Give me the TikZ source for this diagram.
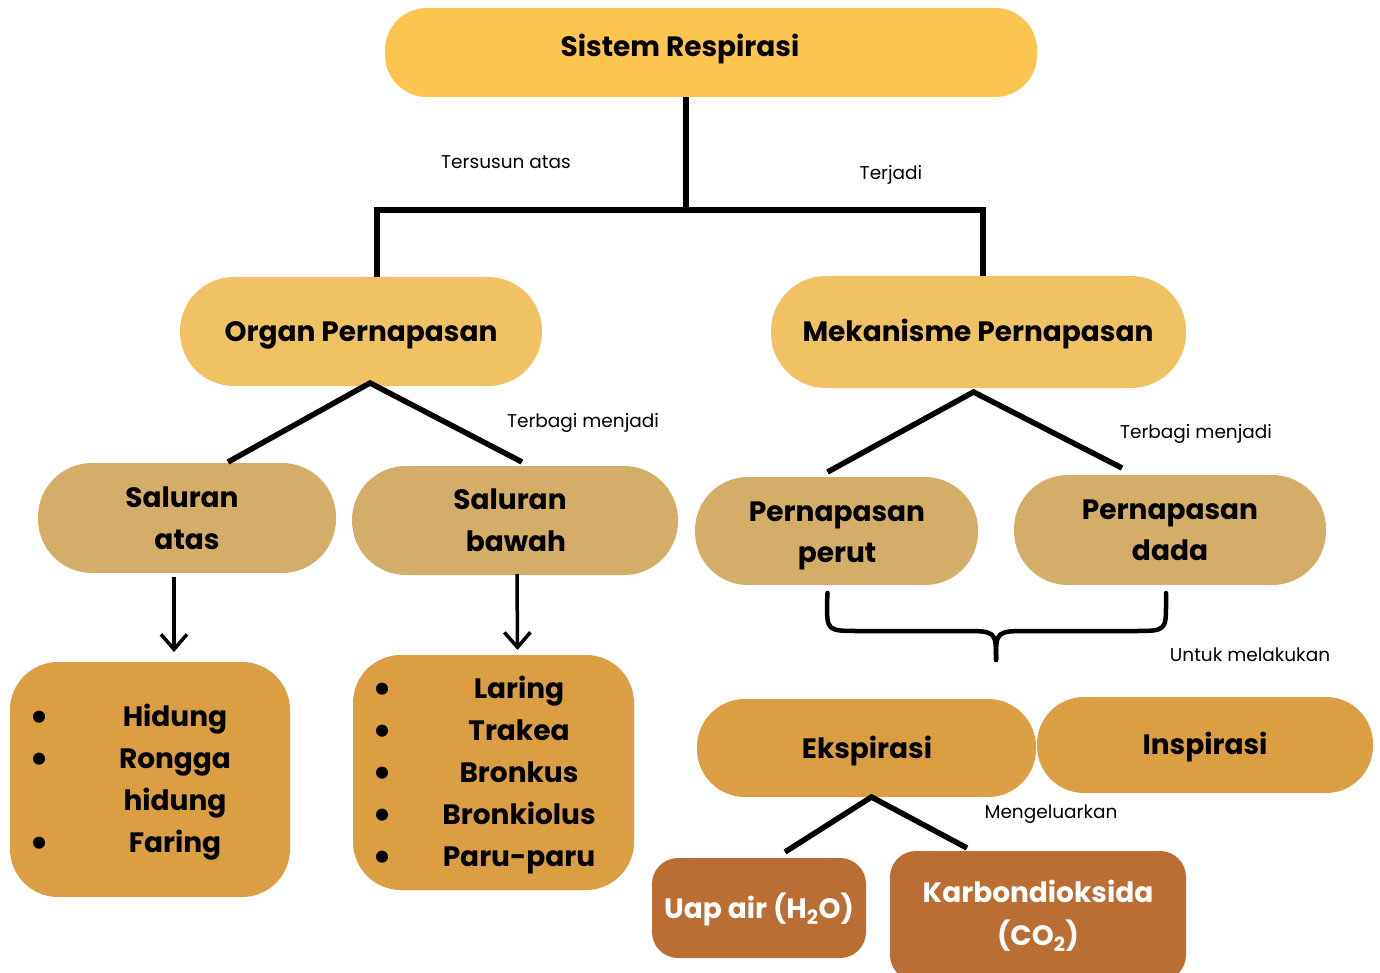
\documentclass[tikz,border=0pt]{standalone}
\usepackage{fontspec}
\setmainfont{Poppins}
\usetikzlibrary{arrows.meta,calc}
\definecolor{cTop}{HTML}{FCC550}
\definecolor{cLvlA}{HTML}{F1C263}
\definecolor{cLvlB}{HTML}{D4AD68}
\definecolor{cLvlC}{HTML}{DB9E42}
\definecolor{cRust}{HTML}{BA6E34}
\begin{document}
\begin{tikzpicture}[x=1pt,y=-1pt,
  box/.style={draw=none,inner sep=0pt,outer sep=0pt},
  bt/.style={font=\bfseries\fontsize{28}{30}\selectfont,text height=20pt,text depth=0pt,inner sep=0pt},
  bul/.style={font=\bfseries\fontsize{40}{40}\selectfont,inner sep=0pt,yshift=-5pt},
  wt/.style={bt,text=white},
  lbl/.style={font=\fontsize{18.5}{20}\selectfont,inner sep=0pt,text height=13pt,text depth=0pt},
  tree/.style={line width=5.5pt,black},
  arr/.style={line width=3.5pt,-{Straight Barb[length=15pt,width=26pt,line width=3.5pt]}},
  brace/.style={line width=4.5pt,line cap=round,line join=round}]
\useasboundingbox (0,0) rectangle (1380,973);
\fill[white] (0,0) rectangle (1380,973);

% boxes
\node[box,fill=cTop,minimum width=652pt,minimum height=89pt,rounded corners=42pt] (sis) at (711,52.5) {};
\node[box,fill=cLvlA,minimum width=362pt,minimum height=109pt,rounded corners=54pt] (org) at (361,331.5) {};
\node[box,fill=cLvlA,minimum width=415pt,minimum height=112pt,rounded corners=55pt] (mek) at (978.5,332) {};
\node[box,fill=cLvlB,minimum width=298pt,minimum height=110pt,rounded corners=54pt] (satas) at (187,518) {};
\node[box,fill=cLvlB,minimum width=326pt,minimum height=109pt,rounded corners=54pt] (sbaw) at (515,520.5) {};
\node[box,fill=cLvlB,minimum width=283pt,minimum height=108pt,rounded corners=53pt] (pperut) at (836.5,531) {};
\node[box,fill=cLvlB,minimum width=312pt,minimum height=110pt,rounded corners=54pt] (pdada) at (1170,530) {};
\node[box,fill=cLvlC,minimum width=280pt,minimum height=235pt,rounded corners=48pt] (hid) at (150,779.5) {};
\node[box,fill=cLvlC,minimum width=281pt,minimum height=235pt,rounded corners=48pt] (lar) at (493.5,772.5) {};
\node[box,fill=cLvlC,minimum width=339pt,minimum height=98pt,rounded corners=48pt] (eks) at (866.5,748) {};
\node[box,fill=cLvlC,minimum width=336pt,minimum height=96pt,rounded corners=47pt] (ins) at (1205,745) {};
\node[box,fill=cRust,minimum width=214pt,minimum height=100pt,rounded corners=26pt] (uap) at (759,908) {};
\node[box,fill=cRust,minimum width=296pt,minimum height=130pt,rounded corners=26pt] (karb) at (1038,916) {};

% box texts
\node[bt] (tSis) at (680,47) {Sistem Respirasi};
\node[bt] (tOrg) at (361,331) {Organ Pernapasan};
\node[bt] (tMek) at (978,331) {Mekanisme Pernapasan};
\node[bt] (tSa1) at (182,497) {Saluran};
\node[bt] (tSa2) at (187,539) {atas};
\node[bt] (tSb1) at (510,499) {Saluran};
\node[bt] (tSb2) at (516,541) {bawah};
\node[bt] (tPp1) at (837,511) {Pernapasan};
\node[bt] (tPp2) at (837,552) {perut};
\node[bt] (tPd1) at (1170,509) {Pernapasan};
\node[bt] (tPd2) at (1170,550) {dada};
\node[bt] (tEks) at (867,748) {Ekspirasi};
\node[bt] (tIns) at (1205,744) {Inspirasi};
\node[wt] (tUap) at (759,908) {Uap air (H\textsubscript{2}O)};
\node[wt] (tKa1) at (1038,892) {Karbondioksida};
\node[wt] (tKa2) at (1038,935) {(CO\textsubscript{2})};

% lists
\foreach \yy/\tx/\nm in {716/Hidung/h1,758/Rongga/h2,800/hidung/h3,842/Faring/h4}
  \node[bt] (\nm) at (175,\yy) {\tx};
\foreach \yy/\nm in {716/b1,758/b2,842/b4}
  \node[bul] (\nm) at (40,\yy) {\textbullet};
\foreach \yy/\tx/\nm in {688/Laring/l1,730/Trakea/l2,772/Bronkus/l3,814/Bronkiolus/l4,856/Paru-paru/l5}
  {\node[bt] (\nm) at (519,\yy) {\tx};
   \node[bul] (\nm b) at (383,\yy) {\textbullet};}

% labels
\node[lbl] (lTs) at (506,162) {Tersusun atas};
\node[lbl] (lTj) at (891,173) {Terjadi};
\node[lbl] (lTb1) at (583,421) {Terbagi menjadi};
\node[lbl] (lTb2) at (1196,432) {Terbagi menjadi};
\node[lbl] (lUm) at (1250,655) {Untuk melakukan};
\node[lbl] (lMg) at (1051,812) {Mengeluarkan};

% top tree
\coordinate (jr) at (983,210);
\draw[tree] ($(sis.south)+(-25,0)$) coordinate (s0) -- (s0 |- jr);
\draw[tree] ($(org.north)+(16,0)$) |- (jr) -- ($(mek.north)+(4.5,0)$);

% organ split
\draw[tree] ($(satas.north)+(41,-1)$) -- ($(org.south)+(9,-3)$) -- ($(sbaw.north)+(7,-4)$);
% mekanisme split
\draw[tree] ($(pperut.north)+(-9,-5)$) -- ($(mek.south)+(-5,4)$) -- ($(pdada.north)+(-48,-7)$);
% ekspirasi split
\draw[tree] ($(uap.north)+(26,-6)$) -- ($(eks.south)+(5,0)$) -- ($(karb.north)+(-71,-3)$);

% arrows
\draw[arr] ($(satas.south)+(-13,4)$) -- ($(hid.north)+(24,-10)$);
\draw[arr] ($(sbaw.south)+(2,-1)$) -- ($(lar.north)+(24,-5)$);

% brace
\coordinate (bl) at ($(pperut.south)+(-9,8)$);
\coordinate (br) at ($(pdada.south)+(-4,8)$);
\coordinate (bt) at (996,660);
\draw[brace] (bl) -- (827,603) .. controls (827,631) .. (860,631) -- (962,631) .. controls (996,631) .. (bt);
\draw[brace] (br) -- (1166,603) .. controls (1166,631) .. (1133,631) -- (1030,631) .. controls (996,631) .. (bt);
\end{tikzpicture}
\end{document}
